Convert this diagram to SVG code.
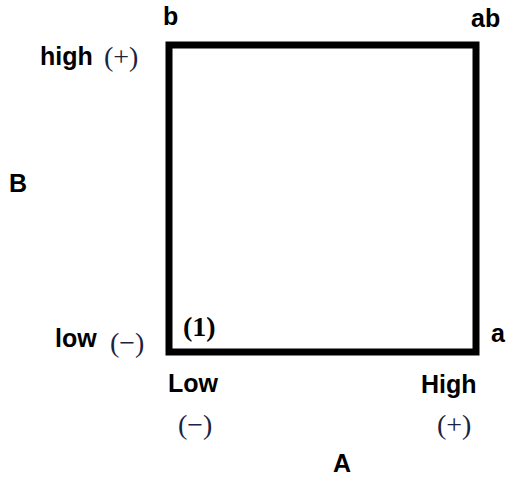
<svg xmlns="http://www.w3.org/2000/svg" width="507" height="477" viewBox="0 0 507 477">
<style>
.lb{font-family:"Liberation Sans",Arial,sans-serif;font-weight:bold;font-size:25px;fill:#000}
.sg{font-family:"Liberation Serif","Times New Roman",serif;font-size:28px;fill:#1a2340}
.sb{font-family:"Liberation Serif","Times New Roman",serif;font-weight:bold;font-size:28px;fill:#000}
</style>
<rect width="507" height="477" fill="#fff"/>
<g id="connectors">
<rect x="169" y="45" width="307" height="307" fill="none" stroke="#000" stroke-width="7"/>
</g>
<g id="corner-b"><text class="lb" x="163" y="25">b</text></g>
<g id="corner-ab"><text class="lb" x="471" y="27">ab</text></g>
<g id="corner-a"><text class="lb" x="491" y="342">a</text></g>
<g id="corner-1"><text class="sb" x="183" y="336">(1)</text></g>
<g id="label-B"><text class="lb" x="9" y="192">B</text></g>
<g id="label-high"><text class="lb" x="40" y="65">high</text><text class="sg" x="104" y="66">(+)</text></g>
<g id="label-low"><text class="lb" x="55" y="347">low</text><text class="sg" x="110" y="352">(−)</text></g>
<g id="label-Low"><text class="lb" x="168" y="392">Low</text><text class="sg" x="178" y="434">(−)</text></g>
<g id="label-High"><text class="lb" x="421" y="393">High</text><text class="sg" x="437" y="434">(+)</text></g>
<g id="label-A"><text class="lb" x="333" y="472">A</text></g>
</svg>
